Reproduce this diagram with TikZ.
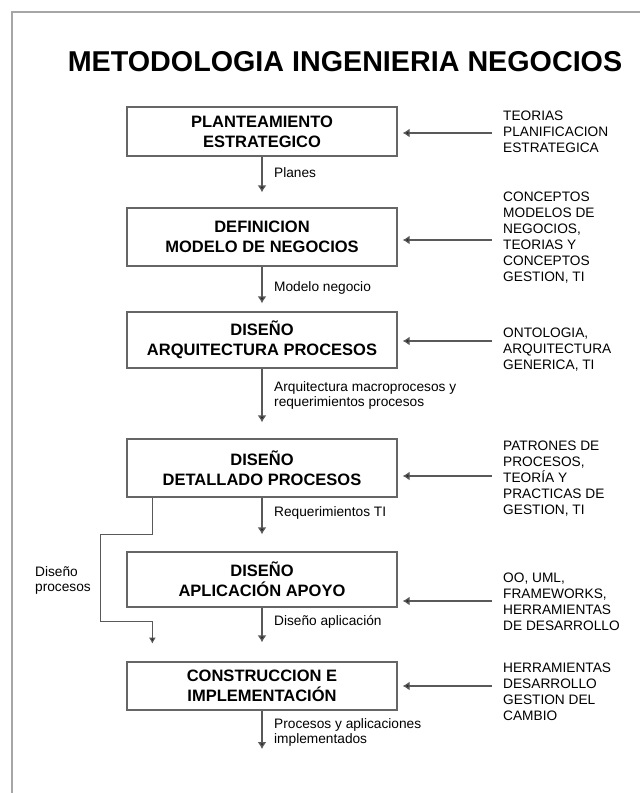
\documentclass[tikz,border=0pt]{standalone}
\usepackage{fontspec}
\setmainfont{Liberation Sans}
\usetikzlibrary{arrows.meta,positioning}

\begin{document}
\begin{tikzpicture}[x=1pt, y=-1pt,
    etapa/.style={draw=black!60, line width=1.3pt, minimum width=270pt, inner sep=0pt,
      align=center, font=\fontsize{16.5}{20}\selectfont\bfseries},
    fuente/.style={anchor=west, align=left, inner xsep=11pt, inner ysep=0pt,
      font=\fontsize{13.7}{16}\selectfont},
    salida/.style={anchor=west, align=left, inner sep=0pt, font=\fontsize{13.7}{15}\selectfont},
    flujo/.style={draw=black!65, line width=1.3pt, -{Latex[length=7pt,width=9pt,fill=black!85]}}]
    \useasboundingbox (0,0) rectangle (640,793);

    % Frame
    \draw[black!35, line width=1.5pt] (640,12) -- (12,12) -- (12,793);

    % Title
    \node (titulo) at (345,62) {\fontsize{28.7}{32}\selectfont\bfseries METODOLOGIA INGENIERIA NEGOCIOS};

    % Stages
    \node[etapa, minimum height=49pt] (plan) at (262,131.5) {PLANTEAMIENTO\\ESTRATEGICO};
    \node[etapa, minimum height=58pt] (modelo) at (262,237) {DEFINICION\\MODELO DE NEGOCIOS};
    \node[etapa, minimum height=56pt] (arq) at (262,340) {DISEÑO\\ARQUITECTURA PROCESOS};
    \node[etapa, minimum height=58pt] (det) at (262,468) {DISEÑO\\DETALLADO PROCESOS};
    \node[etapa, minimum height=55pt] (app) at (262,579.5) {DISEÑO\\APLICACIÓN APOYO};
    \node[etapa, minimum height=48pt] (constr) at (262,686) {CONSTRUCCION E\\IMPLEMENTACIÓN};
    \coordinate (fin) at (262,749);

    % Main flow
    \foreach \a/\b/\gap in {plan/modelo/15, modelo/arq/8, arq/det/16, det/app/17, app/constr/19} {
      \draw[flujo, shorten >=\gap pt] (\a) -- (\b);
    }
    \draw[flujo] (constr) -- (fin);

    % Flow labels
    \node[salida] (lplanes) at (274,173) {Planes};
    \node[salida] (lmodelo) at (274,288) {Modelo negocio};
    \node[salida] (larq) at (274,395.5) {Arquitectura macroprocesos y\\requerimientos procesos};
    \node[salida] (lreq) at (274,513) {Requerimientos TI};
    \node[salida] (lapp) at (274,622) {Diseño aplicación};
    \node[salida] (lfin) at (274,732.5) {Procesos y aplicaciones\\implementados};

    % Branch: process design straight to construction
    \draw[draw=black!65, line width=1pt, -{Latex[length=6pt,width=7pt,fill=black!85]}]
      ([xshift=26pt]det.south west) -- ++(0,37) -- ++(-52,0) -- ++(0,87) -- ++(52,0) -- ++(0,22);
    \node[salida] (ldis) at (35,580.5) {Diseño\\procesos};

    % Inputs on the right
    \node[fuente] (tplan) at (492,132) {TEORIAS\\PLANIFICACION\\ESTRATEGICA};
    \node[fuente] (tmodelo) at (492,237.5) {CONCEPTOS\\MODELOS DE\\NEGOCIOS,\\TEORIAS Y\\CONCEPTOS\\GESTION, TI};
    \node[fuente] (tarq) at (492,349.5) {ONTOLOGIA,\\ARQUITECTURA\\GENERICA, TI};
    \node[fuente] (tdet) at (492,479) {PATRONES DE\\PROCESOS,\\TEORÍA Y\\PRACTICAS DE\\GESTION, TI};
    \node[fuente] (tapp) at (492,602) {OO, UML,\\FRAMEWORKS,\\HERRAMIENTAS\\DE DESARROLLO};
    \node[fuente] (tconstr) at (492,692) {HERRAMIENTAS\\DESARROLLO\\GESTION DEL\\CAMBIO};

    \foreach \t/\b/\dy in {tplan/plan/-1, tmodelo/modelo/-2.5, tarq/arq/8.5, tdet/det/3, tapp/app/1, tconstr/constr/6} {
      \draw[flujo, shorten >=5pt] ([yshift=\dy pt]\t.west) -- ([yshift=\dy pt]\t.west -| \b.east);
    }
\end{tikzpicture}
\end{document}
